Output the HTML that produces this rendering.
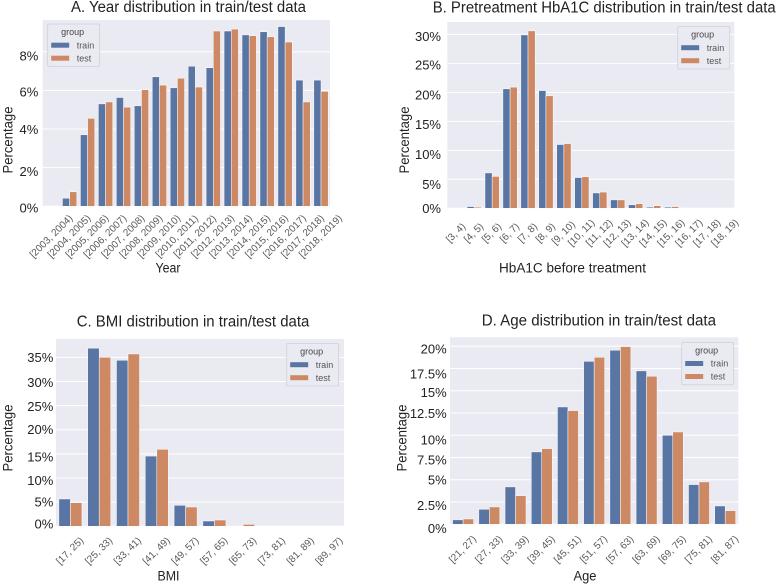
<!DOCTYPE html>
<html lang="en">
<head>
<meta charset="utf-8">
<title>Train/test distributions</title>
<style>
html,body{margin:0;padding:0;background:#fff;width:778px;height:585px;overflow:hidden}
svg{display:block;filter:blur(0.3px)}
text{font-family:"Liberation Sans",sans-serif}
</style>
</head>
<body>
<svg id="figure" width="778" height="585" viewBox="0 0 778 585" xmlns="http://www.w3.org/2000/svg">
<rect width="778" height="585" fill="#ffffff"/>
</svg>
<script>
// Panel A data
const yearCategories = ["[2003, 2004)","[2004, 2005)","[2005, 2006)","[2006, 2007)","[2007, 2008)","[2008, 2009)","[2009, 2010)","[2010, 2011)","[2011, 2012)","[2012, 2013)","[2013, 2014)","[2014, 2015)","[2015, 2016)","[2016, 2017)","[2017, 2018)","[2018, 2019)"];
const yearTrain = [0,0.42,3.7,5.3,5.63,5.2,6.7,6.13,7.25,7.17,9.07,8.87,9.03,9.3,6.53,6.53];
const yearTest = [0,0.75,4.55,5.4,5.13,6.03,6.27,6.63,6.17,9.07,9.17,8.83,8.77,8.5,5.4,5.95];
const yearTicks = [0,2,4,6,8];
const yearTickLabels = ["0%","2%","4%","6%","8%"];

// Panel B data
const hba1cCategories = ["[3, 4)","[4, 5)","[5, 6)","[6, 7)","[7, 8)","[8, 9)","[9, 10)","[10, 11)","[11, 12)","[12, 13)","[13, 14)","[14, 15)","[15, 16)","[16, 17)","[17, 18)","[18, 19)"];
const hba1cTrain = [0,0.3,6.1,20.6,29.9,20.3,11,5.3,2.65,1.45,0.6,0.2,0.2,0.05,0,0];
const hba1cTest = [0,0.2,5.5,20.9,30.6,19.4,11.15,5.45,2.8,1.45,0.8,0.45,0.3,0,0,0];
const hba1cTicks = [0,5,10,15,20,25,30];
const hba1cTickLabels = ["0%","5%","10%","15%","20%","25%","30%"];

// Panel C data
const bmiCategories = ["[17, 25)","[25, 33)","[33, 41)","[41, 49)","[49, 57)","[57, 65)","[65, 73)","[73, 81)","[81, 89)","[89, 97)"];
const bmiTrain = [5.66,36.9,34.4,14.55,4.35,1.1,0.08,0.05,0.05,0.05];
const bmiTest = [4.9,35,35.7,15.95,4,1.3,0.4,0.04,0.03,0.03];
const bmiTicks = [0,5,10,15,20,25,30,35];
const bmiTickLabels = ["0%","5%","10%","15%","20%","25%","30%","35%"];

// Panel D data
const ageCategories = ["[21, 27)","[27, 33)","[33, 39)","[39, 45)","[45, 51)","[51, 57)","[57, 63)","[63, 69)","[69, 75)","[75, 81)","[81, 87)"];
const ageTrain = [0.5,1.69,4.2,8.13,13.18,18.3,19.55,17.23,10,4.46,2.06];
const ageTest = [0.6,1.95,3.22,8.5,12.77,18.76,19.96,16.63,10.37,4.76,1.54];
const ageTicks = [0,2.5,5,7.5,10,12.5,15,17.5,20];
const ageTickLabels = ["0%","2.5%","5%","7.5%","10%","12.5%","15%","17.5%","20%"];

const NS = "http://www.w3.org/2000/svg";
const fig = document.getElementById("figure");
const TRAIN = "#5975a4", TEST = "#cc8963", PANEL = "#eaeaf2";

function make(tag, attrs, parent, txt) {
  const el = document.createElementNS(NS, tag);
  for (const k in attrs) el.setAttribute(k, attrs[k]);
  if (txt !== undefined) el.textContent = txt;
  parent.appendChild(el);
  return el;
}

function drawPanel(p) {
  const g = make("g", {}, fig);
  
  

  const plot = make("rect", {x:p.left, y:p.top, width:p.right-p.left, height:p.bottom-p.top, fill:PANEL}, g);
  
  

  const xStep = (p.right - p.left) / p.categories.length;
  const xPos = i => p.left + (i + 0.5) * xStep;
  const yPos = v => p.bottom - (v / p.yMax) * (p.bottom - p.top);

  p.ticks.forEach((t, i) => {
    const grid = make("line", {x1:p.left, x2:p.right, y1:yPos(t), y2:yPos(t), stroke:"#ffffff", "stroke-width":1}, g);
    
    
    const lab = make("text", {x:p.tickX, y:yPos(t)+p.nudge[i], "text-anchor":"end", "dominant-baseline":"central", "font-size":13, fill:"#222"}, g, p.tickLabels[i]);
    
    
  });

  const barW = xStep * 0.4;
  p.categories.forEach((c, i) => {
    const cx = xPos(i);
    const h1 = p.bottom - yPos(p.train[i]);
    const h2 = p.bottom - yPos(p.test[i]);
    const b1 = make("rect", {x:cx-barW, y:yPos(p.train[i]), width:barW, height:h1, fill:TRAIN, stroke:"#fff", "stroke-width":0.5}, g);
    
    
    const b2 = make("rect", {x:cx, y:yPos(p.test[i]), width:barW, height:h2, fill:TEST, stroke:"#fff", "stroke-width":0.5}, g);
    
    
    const ly = p.bottom + p.labelDrop;
    const lab = make("text", {x:cx, y:ly, "text-anchor":"middle", "dominant-baseline":"central", "font-size":10, fill:"#5a5a5a", transform:"rotate(-45 "+cx+" "+ly+")"}, g, c);
    
    
  });

  const title = make("text", {x:(p.title[1]+p.title[2])/2, y:p.title[3], "text-anchor":"middle", "dominant-baseline":"central", "font-size":15.5, fill:"#222", textLength:p.title[2]-p.title[1], lengthAdjust:"spacingAndGlyphs"}, g, p.title[0]);
  
  

  const xt = make("text", {x:p.xTitle[1], y:p.xTitle[2], "text-anchor":"middle", "dominant-baseline":"central", "font-size":13.5, fill:"#222", textLength:p.xTitle[3], lengthAdjust:"spacingAndGlyphs"}, g, p.xTitle[0]);
  
  

  const yt = make("text", {x:p.yTitle[0], y:p.yTitle[1], "text-anchor":"middle", "dominant-baseline":"central", "font-size":14, fill:"#222", textLength:67, lengthAdjust:"spacingAndGlyphs", transform:"rotate(-90 "+p.yTitle[0]+" "+p.yTitle[1]+")"}, g, "Percentage");
  
  

  const L = p.legend[0], T = p.legend[1];
  const lg = make("g", {}, g);
  
  
  make("rect", {x:L, y:T, width:52, height:42.5, rx:1.5, fill:PANEL, stroke:"#cfcfd6", "stroke-width":0.8}, lg);
  make("text", {x:L+25, y:T+8, "text-anchor":"middle", "dominant-baseline":"central", "font-size":9, fill:"#444"}, lg, "group");
  const e1 = make("rect", {x:L+3.5, y:T+18.7, width:18, height:5, fill:TRAIN}, lg);
  
  
  make("text", {x:L+29, y:T+21.3, "dominant-baseline":"central", "font-size":9, fill:"#555"}, lg, "train");
  const e2 = make("rect", {x:L+3.5, y:T+31.7, width:18, height:5, fill:TEST}, lg);
  
  
  make("text", {x:L+29, y:T+34.3, "dominant-baseline":"central", "font-size":9, fill:"#555"}, lg, "test");
}

drawPanel({id:"year", left:42.7, right:330, top:20, bottom:206.3, yMax:9.64, tickX:38.3, labelDrop:30.5,
  categories:yearCategories, train:yearTrain, test:yearTest, ticks:yearTicks, tickLabels:yearTickLabels,
  nudge:[1.7,3.7,0.3,1.7,4.3],
  title:["A. Year distribution in train/test data",71,306,7.5], xTitle:["Year",168,268,25], yTitle:[7.5,140], legend:[47.7,24]});

drawPanel({id:"hba1c", left:447.3, right:734.3, top:22, bottom:208.3, yMax:32.13, tickX:441, labelDrop:25,
  categories:hba1cCategories, train:hba1cTrain, test:hba1cTest, ticks:hba1cTicks, tickLabels:hba1cTickLabels,
  nudge:[0,5.3,4.3,3,2.7,1.7,2.3],
  title:["B. Pretreatment HbA1C distribution in train/test data",432.7,775.7,8], xTitle:["HbA1C before treatment",572.5,268,147], yTitle:[404,140], legend:[677.7,26.5]});

drawPanel({id:"bmi", left:56, right:344, top:339, bottom:526.3, yMax:38.8, tickX:53.3, labelDrop:25,
  categories:bmiCategories, train:bmiTrain, test:bmiTest, ticks:bmiTicks, tickLabels:bmiTickLabels,
  nudge:[-2.3,0,2.7,3,-0.3,0.7,1,0.3],
  title:["C. BMI distribution in train/test data",76.7,309.3,322], xTitle:["BMI",168.5,576,22], yTitle:[7.5,438], legend:[286.7,343.5]});

drawPanel({id:"age", left:450, right:738.3, top:337.3, bottom:524.3, yMax:21, tickX:446.7, labelDrop:25.5,
  categories:ageCategories, train:ageTrain, test:ageTest, ticks:ageTicks, tickLabels:ageTickLabels,
  nudge:[4,3.3,0,2.7,4.7,0.3,1.7,5.3,2.7],
  title:["D. Age distribution in train/test data",481.7,716,321], xTitle:["Age",585,576,23], yTitle:[401.7,438], legend:[681.7,342.3]});
</script>
</body>
</html>
